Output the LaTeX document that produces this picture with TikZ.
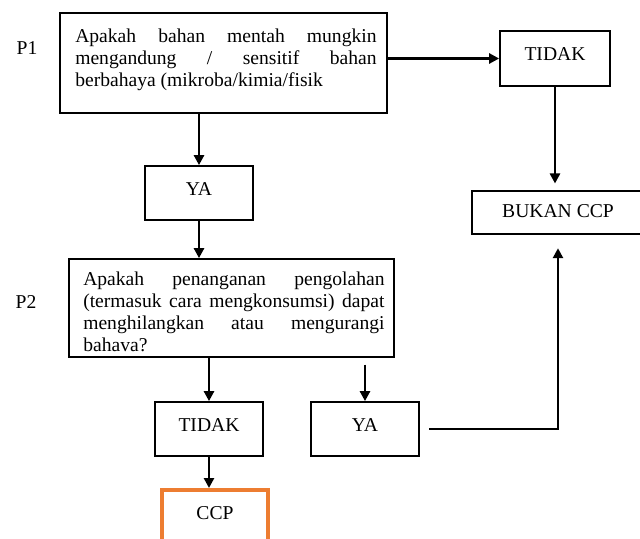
\documentclass[tikz,border=0pt]{standalone}
\usepackage{fontspec}
\setmainfont{Liberation Serif}
\usetikzlibrary{arrows.meta}
\definecolor{ccporange}{RGB}{237,125,49}
\begin{document}
\begin{tikzpicture}[x=0.75pt,y=-0.75pt]
 \tikzset{every node/.style={font=\fontsize{14.7}{16.5}\selectfont}}
 \tikzset{box/.style = {draw, line width=1.3pt, inner sep=0pt, text depth=6pt}}
 \tikzset{question/.style = {anchor=base west, text width=226pt, align=justify, inner sep=0pt}}
 \tikzset{arr/.style = {line width=2.1pt, -{Triangle[length=7.5pt,width=7.5pt]}}}
 \def\bw{81pt}
 \def\bh{40.5pt}

 \useasboundingbox (0,0) rectangle (640,539);

 \node (p1) at (27,48) {P1};
 \node (p2) at (26,302) {P2};

 \node[box, minimum width=245.25pt, minimum height=75pt] (q1) at (223.5,63) {};
 \node[question] (q1text) at (75,42) {Apakah bahan mentah mungkin\linebreak mengandung / sensitif bahan\linebreak berbahaya (mikroba/kimia/fisik};
 \node[box, minimum width=82.5pt, minimum height=41.25pt] (no1) at (555,58.5) {TIDAK};
 \node[box, minimum width=\bw, minimum height=\bh] (ya1) at (199,193) {YA};
 \node[box, text depth=2pt, minimum width=129pt, minimum height=32.25pt] (bukan) at (558,212.5) {BUKAN CCP};

 \node[box, minimum width=243.75pt, minimum height=73.5pt] (q2) at (231.5,308) {};
 \node[question] (q2text) at (83,285) {Apakah penanganan pengolahan\linebreak (termasuk cara mengkonsumsi) dapat\linebreak menghilangkan atau mengurangi\linebreak bahava?};
 \node[box, minimum width=\bw, minimum height=\bh] (no2) at (209,429) {TIDAK};
 \node[box, minimum width=\bw, minimum height=\bh] (yes2) at (365,429) {YA};
 \node[box, draw=ccporange, line width=3pt, minimum width=79.5pt, minimum height=41.25pt] (ccp) at (215,517.5) {CCP};

 \draw[arr] (q1.south -| ya1) -- (ya1.north);
 \draw[arr] (ya1.south) -- (ya1.south |- q2.north);
 \draw[arr] (q1.east |- no1) -- (no1.west);
 \draw[arr, shorten >=5pt] (no1.south) -- (no1.south |- bukan.north);
 \draw[arr] (q2.south -| no2) -- (no2.north);
 \draw[arr, shorten <=5pt] (q2.south -| yes2) -- (yes2.north);
 \draw[arr] (no2.south) -- (no2.south |- ccp.north);
 \draw[arr, shorten <=7pt, shorten >=10pt] (yes2.east) -| (bukan.south);

\end{tikzpicture}
\end{document}
